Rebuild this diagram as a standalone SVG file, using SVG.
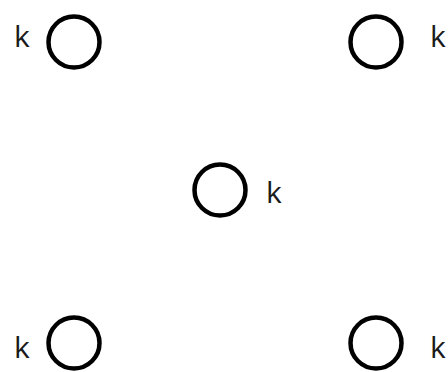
<svg xmlns="http://www.w3.org/2000/svg" width="448" height="372" viewBox="0 0 448 372">
<style>
.n{fill:none;stroke:#000;stroke-width:4.5}
.t{font-family:"Open Sans","Liberation Sans",sans-serif;font-size:30px;fill:#1a1a1a}
</style>
<rect width="448" height="372" fill="#fff"/>
<g id="connectors"></g>
<g id="n1"><circle class="n" cx="74" cy="42" r="25.5"/><text class="t" x="14" y="47">k</text></g>
<g id="n2"><circle class="n" cx="376" cy="42" r="25.5"/><text class="t" x="430" y="47">k</text></g>
<g id="n3"><circle class="n" cx="220" cy="190" r="25.5"/><text class="t" x="266" y="203">k</text></g>
<g id="n4"><circle class="n" cx="74" cy="343" r="25.5"/><text class="t" x="14" y="358">k</text></g>
<g id="n5"><circle class="n" cx="376" cy="343" r="25.5"/><text class="t" x="430" y="358">k</text></g>
</svg>
